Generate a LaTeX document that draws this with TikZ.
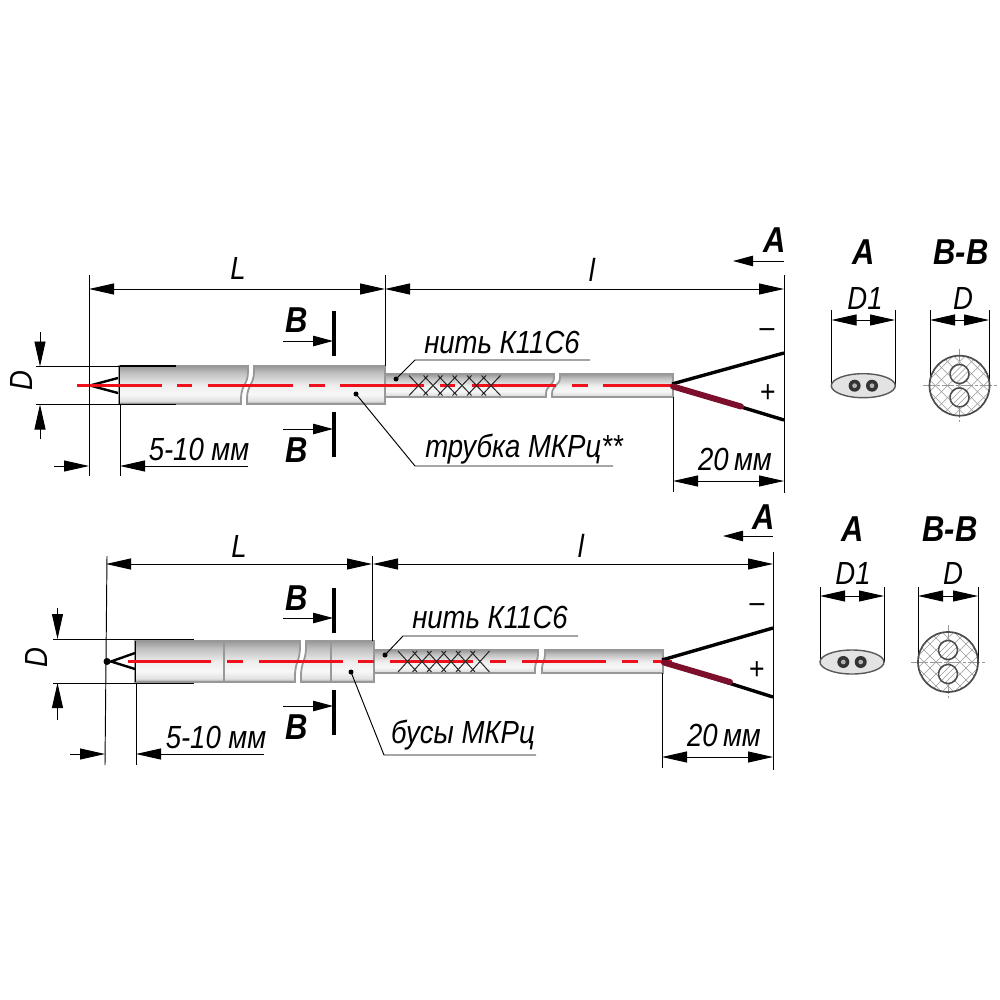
\documentclass[tikz,border=0pt]{standalone}
\usepackage{fontspec}
\setmainfont{Liberation Sans}[FakeStretch=0.86]
\usetikzlibrary{arrows.meta,calc}
\definecolor{wirered}{HTML}{7C0F2C}
\definecolor{axisred}{HTML}{F0101C}
\definecolor{rodedge}{HTML}{989898}
\pgfdeclareverticalshading{rodshade}{100bp}{
  color(0bp)=(rodedge); color(25bp)=(rodedge);
  color(29bp)=(black!12); color(38bp)=(white!97!black); color(50bp)=(black!7);
  color(66bp)=(black!25); color(75bp)=(rodedge); color(100bp)=(rodedge)}
\tikzset{
  thinln/.style={line width=0.95pt,black},
  dimtip/.tip={Triangle[length=25pt,width=11pt]},
  sectip/.tip={Triangle[length=20pt,width=10.5pt]},
  dimln/.style={thinln,{dimtip}-{dimtip}},
  arrln/.style={thinln,-{dimtip}},
  secln/.style={thinln,-{sectip}},
  cutmark/.style={line width=3.6pt,black},
  lab/.style={inner sep=0pt,font=\fontsize{32}{32}\selectfont\itshape},
  blab/.style={inner sep=0pt,font=\fontsize{36}{36}\selectfont\bfseries\itshape},
  signlab/.style={inner sep=0pt,font=\fontsize{31}{31}\selectfont},
  rod/.style={shading=rodshade,draw=rodedge,line width=1.8pt},
  redaxis/.style={line width=2.5pt,axisred},
  blackwire/.style={line width=3.4pt,black},
  redwire/.style={line width=6pt,wirered,line cap=round},
  braid/.style={line width=1pt,black!85},
  tipwire/.style={line width=2.4pt,black},
  edgeln/.style={line width=1.8pt,black},
  hatchln/.style={line width=0.5pt,black!40},
  cline/.style={line width=0.7pt,black!40,dash pattern=on 12pt off 2pt on 3pt off 2pt},
  leaderdot/.style={circle,fill=black,inner sep=0pt,minimum size=5pt},
}
\newcommand{\brokenrod}[7]{%
  \pgfmathsetmacro{\rodmid}{(#5+#6)/2}%
  \pgfmathsetmacro{\rodhi}{#5+0.14*(#6-#5)}%
  \pgfmathsetmacro{\rodlo}{#6-0.14*(#6-#5)}%
  \shade[rod] (#1,#5) -- (#2,#5) -- (#2,\rodhi) .. controls (#2,\rodmid) and (#3,\rodmid) .. (#3,\rodlo) -- (#3,#6) -- (#1,#6) -- cycle;
  \shade[rod] ({#2+#7},#5) -- (#4,#5) -- (#4,#6) -- ({#3+#7},#6) -- ({#3+#7},\rodlo) .. controls ({#3+#7},\rodmid) and ({#2+#7},\rodmid) .. ({#2+#7},\rodhi) -- cycle;
}
\newcommand{\braidnet}[4]{%
  \foreach \k in {0,...,#4}{
    \pgfmathsetmacro{\ba}{#1+14.5*\k}%
    \draw[braid] (\ba,#2) -- ({\ba+19},#3);
    \draw[braid] ({\ba+19},#2) -- (\ba,#3);
  }
}
\newcommand{\viewA}[2]{%
  \filldraw[fill=black!11,draw=black!65,line width=1.4pt] (#1,#2) ellipse [x radius=32,y radius=12];
  \foreach \dx in {-8.7,8.7}{
    \fill[black!80] ({#1+\dx},#2) circle [radius=6];
    \fill[black!30] ({#1+\dx},#2) circle [radius=2.4];
  }
}
\newcommand{\viewB}[3]{%
  \begin{scope}
    \clip (#1,#2) circle [radius=30];
    \fill[white] (#1,#2) circle [radius=30];
    \foreach \s in {-7,...,7}{
      \draw[hatchln] ({#1+\s*12-40},{#2-40}) -- ({#1+\s*12+40},{#2+40});
      \draw[hatchln] ({#1+\s*12-40},{#2+40}) -- ({#1+\s*12+40},{#2-40});
    }
  \end{scope}
  \draw[cline] ({#1-37},#2) -- ({#1+37},#2);
  \draw[cline] (#1,{#2-37}) -- (#1,{#2+36});
  \draw[draw=black!70,line width=1.7pt] (#1,#2) circle [radius=30];
  \foreach \sgn in {-1,1}{
    \begin{scope}
      \clip (#1,{#2+\sgn*#3}) circle [radius=9.5];
      \fill[white] (#1,{#2+\sgn*#3}) circle [radius=9.5];
      \foreach \s in {-2,...,2}{
        \draw[hatchln] ({#1+\s*6-12},{#2+\sgn*#3+12}) -- ({#1+\s*6+12},{#2+\sgn*#3-12});
      }
    \end{scope}
    \draw[draw=black!70,line width=1.5pt] (#1,{#2+\sgn*#3}) circle [radius=9.5];
  }
}
\begin{document}
\begin{tikzpicture}[x=1pt,y=-1pt]
\useasboundingbox[fill=white] (0,0) rectangle (1000,1000);

%%%%%%%%%% UPPER ASSEMBLY %%%%%%%%%%
\brokenrod{385}{554}{546}{673}{374}{397}{6}
\brokenrod{119}{248}{241}{385}{366}{404}{6}
\draw[edgeln] (119.5,366) -- (176,366);
\draw[edgeln] (119.5,404.5) -- (176,404.5);
\draw[edgeln] (119.5,366) -- (119.5,404.5);
\draw[tipwire] (118,378) -- (90,385.5) -- (118,393);
\foreach \a/\b in {77/162,177/192,208/293,309/325,340/424,440/455,472/556,572/588,603/672}
  \draw[redaxis] (\a,385.5) -- (\b,385.5);
\braidnet{409}{375.5}{395.5}{5}
\draw[blackwire] (672,384) -- (784,353);
\draw[blackwire] (672,386) -- (784,420);
\draw[redwire] (673,386.5) -- (741,406.5);
\draw[thinln] (89,275) -- (89,476);
\draw[thinln] (385,275) -- (385,366);
\draw[thinln] (784,275) -- (784,493);
\draw[thinln] (673,397) -- (673,492);
\draw[thinln] (120,404) -- (120,476);
\draw[thinln] (36,366.5) -- (120,366.5);
\draw[thinln] (36,404.5) -- (120,404.5);
\draw[dimln] (89,289) -- (385,289);
\draw[dimln] (385,289) -- (784,289);
\draw[arrln] (40,332) -- (40,366.5);
\draw[arrln] (40,439) -- (40,404.5);
\draw[arrln] (54,466) -- (89,466);
\draw[arrln] (248,466) -- (120,466);
\draw[dimln] (673,481) -- (784,481);
\draw[cutmark] (334,311) -- (334,356);
\draw[cutmark] (334,412) -- (334,457);
\draw[secln] (283,341) -- (333,341);
\draw[secln] (283,429) -- (333,429);
\draw[secln] (784,261) -- (733,261);
\node[leaderdot] (uSleeveDot) at (396,379) {};
\coordinate (uSleeveBend) at (415,360);
\coordinate (uSleeveEnd) at (590,360);
\draw[thinln] (uSleeveDot.center) -- (uSleeveBend) -- (uSleeveEnd);
\node[leaderdot] (uTubeDot) at (356,394) {};
\coordinate (uTubeBend) at (415,466);
\coordinate (uTubeEnd) at (613,466);
\draw[thinln] (uTubeDot.center) -- (uTubeBend) -- (uTubeEnd);
\node[lab] (uL) at (238,268) {L};
\node[lab] (ul) at (592,270) {l};
\node[lab,rotate=90] (uD) at (21,381) {D};
\node[lab] (uTip) at (199,449) {5-10 мм};
\node[lab] (uThread) at (502,342) {нить К11С6};
\node[lab] (uTube) at (524,449) {трубка МКРц**};
\node[lab] (u20) at (735,459) {20\,мм};
\node[blab] (uB1) at (297,320) {B};
\node[blab] (uB2) at (297,450) {B};
\node[blab] (uA) at (775,240) {A};
\node[signlab] (uMinus) at (767,333) {–};
\node[signlab] (uPlus) at (768,394) {+};

%%%%%%%%%% UPPER VIEWS %%%%%%%%%%
\draw[thinln] (831.5,310) -- (831.5,386);
\draw[thinln] (895,310) -- (895,386);
\draw[thinln] (930,310) -- (930,386);
\draw[thinln] (989,310) -- (989,386);
\draw[arrln] (856,320) -- (831.5,320);
\draw[arrln] (871,320) -- (895,320);
\draw[thinln] (856,320) -- (871,320);
\draw[arrln] (954,320) -- (930,320);
\draw[arrln] (965,320) -- (989,320);
\draw[thinln] (954,320) -- (965,320);
\viewA{863.3}{385.7}
\viewB{959.5}{385.7}{11.7}
\node[blab] (uAv) at (864,252) {A};
\node[blab] (uBB) at (961,252) {B-B};
\node[lab] (uD1) at (865,298) {D1};
\node[lab] (uDv) at (963,298) {D};

%%%%%%%%%% LOWER ASSEMBLY %%%%%%%%%%
\brokenrod{374}{538}{535}{663}{650}{673}{7}
\brokenrod{135}{300}{295}{374}{641}{682}{6}
\draw[rodedge,line width=1.8pt] (224,641) -- (224,682);
\draw[rodedge,line width=1.8pt] (331,641) -- (331,682);
\draw[edgeln] (135.5,641) -- (135.5,682);
\draw[tipwire] (135,653) -- (111,661.5) -- (135,669);
\node[circle,fill=black,inner sep=0pt,minimum size=7pt] (lTipDot) at (107,661.5) {};
\foreach \a/\b in {128/211,227/243,259/343,358/374,390/473,490/506,522/606,622/638,653/672}
  \draw[redaxis] (\a,661.5) -- (\b,661.5);
\braidnet{398}{651}{672}{5}
\draw[blackwire] (662,660) -- (773,628);
\draw[blackwire] (662,662) -- (773,697);
\draw[redwire] (664,662.5) -- (730,682);
\draw[thinln] (107,556) -- (105,765);
\draw[thinln] (372,556) -- (372,641);
\draw[thinln] (773,552) -- (773,770);
\draw[thinln] (662,673) -- (662,768);
\draw[thinln] (136,683) -- (136,765);
\draw[thinln] (53,639) -- (194,639);
\draw[thinln] (53,683) -- (194,683);
\draw[dimln] (106,564) -- (372,564);
\draw[dimln] (373,564) -- (773,564);
\draw[arrln] (57.5,608) -- (57.5,639);
\draw[arrln] (57.5,720) -- (57.5,683);
\draw[arrln] (70,754) -- (105,754);
\draw[arrln] (264,754) -- (136,754);
\draw[dimln] (662,757) -- (773,757);
\draw[cutmark] (334,588) -- (334,633);
\draw[cutmark] (334,690) -- (334,735);
\draw[secln] (283,618) -- (333,618);
\draw[secln] (283,706) -- (333,706);
\draw[secln] (773,536) -- (723,536);
\node[leaderdot] (lSleeveDot) at (385,655) {};
\coordinate (lSleeveBend) at (403,636);
\coordinate (lSleeveEnd) at (578,636);
\draw[thinln] (lSleeveDot.center) -- (lSleeveBend) -- (lSleeveEnd);
\node[leaderdot] (lBeadDot) at (351,672) {};
\coordinate (lBeadBend) at (384,755);
\coordinate (lBeadEnd) at (536,755);
\draw[thinln] (lBeadDot.center) -- (lBeadBend) -- (lBeadEnd);
\node[lab] (lL) at (239,546) {L};
\node[lab] (ll) at (581,546) {l};
\node[lab,rotate=90] (lD) at (36,658) {D};
\node[lab] (lTip) at (216,737) {5-10 мм};
\node[lab] (lThread) at (490,617) {нить К11С6};
\node[lab] (lBeads) at (463,735) {бусы МКРц};
\node[lab] (l20) at (724,735) {20\,мм};
\node[blab] (lB1) at (297,598) {B};
\node[blab] (lB2) at (297,727) {B};
\node[blab] (lA) at (764,517) {A};
\node[signlab] (lMinus) at (757,608) {–};
\node[signlab] (lPlus) at (757,671) {+};

%%%%%%%%%% LOWER VIEWS %%%%%%%%%%
\draw[thinln] (820,587) -- (820,662);
\draw[thinln] (884,587) -- (884,662);
\draw[thinln] (918,587) -- (918,662);
\draw[thinln] (978,587) -- (978,662);
\draw[arrln] (844,596) -- (820,596);
\draw[arrln] (860,596) -- (884,596);
\draw[thinln] (844,596) -- (860,596);
\draw[arrln] (942,596) -- (918,596);
\draw[arrln] (954,596) -- (978,596);
\draw[thinln] (942,596) -- (954,596);
\viewA{852}{662}
\viewB{948}{662}{12}
\node[blab] (lAv) at (853,529) {A};
\node[blab] (lBB) at (950,529) {B-B};
\node[lab] (lD1) at (853,573) {D1};
\node[lab] (lDv) at (953,573) {D};
\end{tikzpicture}
\end{document}
